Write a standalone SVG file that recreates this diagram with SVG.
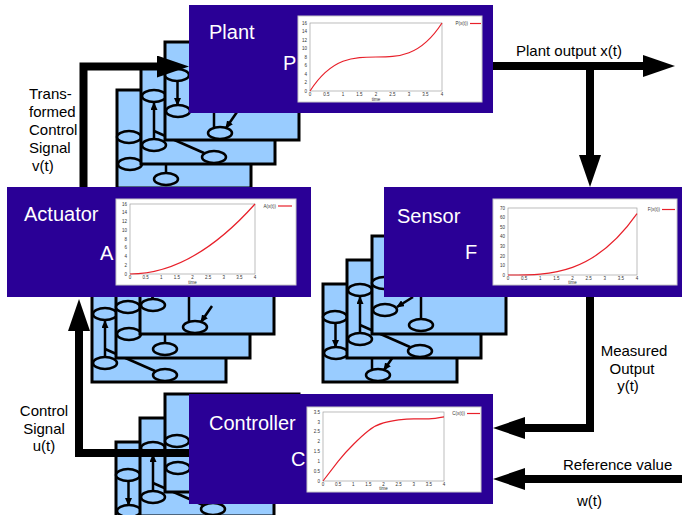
<svg xmlns="http://www.w3.org/2000/svg" xmlns:xlink="http://www.w3.org/1999/xlink" width="682" height="515" viewBox="0 0 682 515">
<style>
  .blk{fill:#2a0096}
  .card{fill:#99ccff;stroke:#000;stroke-width:3}
  .nd{fill:#99ccff;stroke:#000;stroke-width:2.5}
  .ln{fill:none;stroke:#000;stroke-width:2.5}
  .ar{marker-end:url(#sa)}
  .wire{fill:none;stroke:#000;stroke-width:8;stroke-linejoin:miter;marker-end:url(#big)}
  .lbl{font-family:"Liberation Sans",Arial,sans-serif;font-size:15px;fill:#000}
  .nm{font-family:"Liberation Sans",Arial,sans-serif;font-size:20px;fill:#fff}
  .chart{fill:#fff;stroke:#c8c8c8;stroke-width:1}
  .frame{fill:none;stroke:#a0a0a0;stroke-width:0.7}
  .curve{fill:none;stroke:#e8202a;stroke-width:1.2}
  .tk{font-family:"Liberation Sans",Arial,sans-serif;font-size:4.5px;fill:#333}
  .ty{text-anchor:end}
  .tx{text-anchor:middle}
</style>
<defs>
  <marker id="sa" viewBox="0 0 8 7" refX="7" refY="3.5" markerWidth="8" markerHeight="7" markerUnits="userSpaceOnUse" orient="auto">
    <path d="M0,0L8,3.5L0,7z" fill="#000"/>
  </marker>
  <marker id="big" viewBox="0 0 32 22" refX="0" refY="11" markerWidth="32" markerHeight="22" markerUnits="userSpaceOnUse" orient="auto">
    <path d="M0,0L32,11L0,22z" fill="#000"/>
  </marker>
  <!-- small graph sketches printed on the stacked cards -->
  <g id="patA">
    <path class="ln" d="M49,55V84"/>
    <path class="ln ar" d="M41,61L25,71"/>
    <ellipse class="nd" cx="12" cy="47" rx="12" ry="6"/>
    <ellipse class="nd" cx="13" cy="74" rx="12" ry="6"/>
    <ellipse class="nd" cx="49" cy="89" rx="12" ry="6"/>
  </g>
  <g id="patB">
    <path class="ln ar" d="M13,73V37"/>
    <path class="ln" d="M13,65L63,87"/>
    <ellipse class="nd" cx="13" cy="30" rx="12" ry="6"/>
    <ellipse class="nd" cx="13" cy="79" rx="12" ry="6"/>
    <ellipse class="nd" cx="73" cy="91" rx="12" ry="6"/>
  </g>
  <g id="patC">
    <path class="ln ar" d="M12.5,39V63"/>
    <path class="ln" d="M49,50V86"/>
    <path class="ln ar" d="M72,70L61,86"/>
    <ellipse class="nd" cx="12" cy="33" rx="12" ry="6"/>
    <ellipse class="nd" cx="13" cy="69" rx="12" ry="6"/>
    <ellipse class="nd" cx="55" cy="91" rx="12" ry="6"/>
  </g>
</defs>

<rect width="682" height="515" fill="#fff"/>

<!-- Plant -->
<g id="plant">
  <g transform="translate(117,90)"><rect class="card" width="134" height="98"/><use xlink:href="#patA"/></g>
  <g transform="translate(141,66)"><rect class="card" width="134" height="98"/><use xlink:href="#patB"/></g>
  <g transform="translate(165,42)"><rect class="card" width="134" height="98"/><use xlink:href="#patC"/></g>
  <rect class="blk" x="189" y="5" width="304" height="108"/>
  <text class="nm" x="209" y="39">Plant</text>
  <text class="nm" x="283" y="70">P</text>
  <rect class="chart" x="298" y="16" width="184" height="86"/>
  <rect class="frame" x="310" y="23" width="132" height="68"/>
  <path class="curve" d="M310,91C354,23 398,91 442,23"/>
  <path class="curve" d="M470,23.5H481"/>
  <g class="tk">
    <text class="ty" x="307" y="92.6">0</text><text class="ty" x="307" y="84.1">2</text><text class="ty" x="307" y="75.6">4</text><text class="ty" x="307" y="67.1">6</text><text class="ty" x="307" y="58.6">8</text><text class="ty" x="307" y="50.1">10</text><text class="ty" x="307" y="41.6">12</text><text class="ty" x="307" y="33.1">14</text><text class="ty" x="307" y="24.6">16</text>
    <text class="tx" x="310" y="96">0</text><text class="tx" x="326.5" y="96">0.5</text><text class="tx" x="343" y="96">1</text><text class="tx" x="359.5" y="96">1.5</text><text class="tx" x="376" y="96">2</text><text class="tx" x="392.5" y="96">2.5</text><text class="tx" x="409" y="96">3</text><text class="tx" x="425.5" y="96">3.5</text><text class="tx" x="442" y="96">4</text>
    <text class="tx" x="376" y="100.5">time</text>
    <text class="ty" x="468" y="25">P(x(t))</text>
  </g>
</g>

<!-- Actuator -->
<g id="actuator">
  <g transform="translate(92,284)"><rect class="card" width="134" height="98"/><use xlink:href="#patB"/></g>
  <g transform="translate(116,260)"><rect class="card" width="134" height="98"/><use xlink:href="#patA"/></g>
  <g transform="translate(140,236)"><rect class="card" width="134" height="98"/><use xlink:href="#patC"/></g>
  <rect class="blk" x="7" y="187" width="304" height="110"/>
  <text class="nm" x="24" y="221">Actuator</text>
  <text class="nm" x="100" y="260">A</text>
  <rect class="chart" x="116" y="199" width="180" height="86"/>
  <rect class="frame" x="130" y="204" width="125" height="70"/>
  <path class="curve" d="M130,274Q192.5,274 255,204"/>
  <path class="curve" d="M278,206H292"/>
  <g class="tk">
    <text class="ty" x="127" y="275.6">0</text><text class="ty" x="127" y="266.9">2</text><text class="ty" x="127" y="258.1">4</text><text class="ty" x="127" y="249.4">6</text><text class="ty" x="127" y="240.6">8</text><text class="ty" x="127" y="231.9">10</text><text class="ty" x="127" y="223.1">12</text><text class="ty" x="127" y="214.4">14</text><text class="ty" x="127" y="205.6">16</text>
    <text class="tx" x="130" y="279">0</text><text class="tx" x="145.6" y="279">0.5</text><text class="tx" x="161.3" y="279">1</text><text class="tx" x="176.9" y="279">1.5</text><text class="tx" x="192.5" y="279">2</text><text class="tx" x="208.1" y="279">2.5</text><text class="tx" x="223.8" y="279">3</text><text class="tx" x="239.4" y="279">3.5</text><text class="tx" x="255" y="279">4</text>
    <text class="tx" x="192.5" y="283.5">time</text>
    <text class="ty" x="276" y="207.5">A(x(t))</text>
  </g>
</g>

<!-- Sensor -->
<g id="sensor">
  <g transform="translate(323,284)"><rect class="card" width="134" height="98"/><use xlink:href="#patC"/></g>
  <g transform="translate(347,260)"><rect class="card" width="134" height="98"/><use xlink:href="#patB"/></g>
  <g transform="translate(372,236)"><rect class="card" width="134" height="98"/><use xlink:href="#patA"/></g>
  <rect class="blk" x="384" y="187" width="304" height="110"/>
  <text class="nm" x="397" y="223">Sensor</text>
  <text class="nm" x="465" y="259">F</text>
  <rect class="chart" x="493" y="199" width="184" height="86"/>
  <rect class="frame" x="508" y="208" width="129" height="67"/>
  <path class="curve" d="M508,275C551,275 594,275 637,213.7"/>
  <path class="curve" d="M662,209.5H675"/>
  <g class="tk">
    <text class="ty" x="505" y="276.6">0</text><text class="ty" x="505" y="267">10</text><text class="ty" x="505" y="257.5">20</text><text class="ty" x="505" y="247.9">30</text><text class="ty" x="505" y="238.3">40</text><text class="ty" x="505" y="228.7">50</text><text class="ty" x="505" y="219.2">60</text><text class="ty" x="505" y="209.6">70</text>
    <text class="tx" x="508" y="280">0</text><text class="tx" x="524.1" y="280">0.5</text><text class="tx" x="540.3" y="280">1</text><text class="tx" x="556.4" y="280">1.5</text><text class="tx" x="572.5" y="280">2</text><text class="tx" x="588.6" y="280">2.5</text><text class="tx" x="604.8" y="280">3</text><text class="tx" x="620.9" y="280">3.5</text><text class="tx" x="637" y="280">4</text>
    <text class="tx" x="572.5" y="284">time</text>
    <text class="ty" x="660" y="211">F(x(t))</text>
  </g>
</g>

<!-- Controller -->
<g id="controller">
  <g transform="translate(116,442)"><rect class="card" width="134" height="98"/><use xlink:href="#patC"/></g>
  <g transform="translate(140,418)"><rect class="card" width="134" height="98"/><use xlink:href="#patB"/></g>
  <g transform="translate(165,394)"><rect class="card" width="134" height="98"/><use xlink:href="#patA"/></g>
  <rect class="blk" x="189" y="394" width="304" height="110"/>
  <text class="nm" x="209" y="430">Controller</text>
  <text class="nm" x="291" y="466">C</text>
  <rect class="chart" x="307" y="407" width="174" height="85"/>
  <rect class="frame" x="323" y="412" width="121" height="69"/>
  <path class="curve" d="M323,481C328,474.5 333,468 338.1,461.3C343.2,455 348.2,449.5 353.3,444.5C358.3,439.4 363.3,434.7 368.4,430.7C373.4,426.8 378.5,424.3 383.5,422.9C388.5,421.4 393.5,420.6 398.6,419.9C403.6,419.3 408.7,418.9 413.8,418.9C418.8,418.9 423.9,419 428.9,418.9C434,418.7 439,417.8 444,416.9"/>
  <path class="curve" d="M467,413.5H480"/>
  <g class="tk">
    <text class="ty" x="320" y="482.6">0</text><text class="ty" x="320" y="472.7">0.5</text><text class="ty" x="320" y="462.9">1</text><text class="ty" x="320" y="453">1.5</text><text class="ty" x="320" y="443.2">2</text><text class="ty" x="320" y="433.3">2.5</text><text class="ty" x="320" y="423.5">3</text><text class="ty" x="320" y="413.6">3.5</text>
    <text class="tx" x="323" y="486">0</text><text class="tx" x="338.1" y="486">0.5</text><text class="tx" x="353.3" y="486">1</text><text class="tx" x="368.4" y="486">1.5</text><text class="tx" x="383.5" y="486">2</text><text class="tx" x="398.6" y="486">2.5</text><text class="tx" x="413.8" y="486">3</text><text class="tx" x="428.9" y="486">3.5</text><text class="tx" x="444" y="486">4</text>
    <text class="tx" x="383.5" y="490">time</text>
    <text class="ty" x="465" y="415">C(x(t))</text>
  </g>
</g>

<!-- signal lines -->
<g id="connectors">
  <path class="wire" d="M83.5,187V66.5H157"/>
  <path class="wire" d="M493,66H643"/>
  <path class="wire" d="M590,66V155"/>
  <path class="wire" d="M590,297V428H525"/>
  <path class="wire" d="M682,479H525"/>
  <path class="wire" d="M189,453H79V331"/>
</g>

<!-- signal labels -->
<g id="labels" class="lbl">
  <text x="29" y="99">Trans-</text>
  <text x="29" y="117">formed</text>
  <text x="29" y="135">Control</text>
  <text x="29" y="153">Signal</text>
  <text x="32" y="171">v(t)</text>
  <text x="516" y="56">Plant output x(t)</text>
  <text x="634" y="356" text-anchor="middle">Measured</text>
  <text x="632" y="374" text-anchor="middle">Output</text>
  <text x="628" y="391" text-anchor="middle">y(t)</text>
  <text x="563" y="470">Reference value</text>
  <text x="577" y="506">w(t)</text>
  <text x="44" y="416" text-anchor="middle">Control</text>
  <text x="44" y="434" text-anchor="middle">Signal</text>
  <text x="44" y="451" text-anchor="middle">u(t)</text>
</g>
</svg>
